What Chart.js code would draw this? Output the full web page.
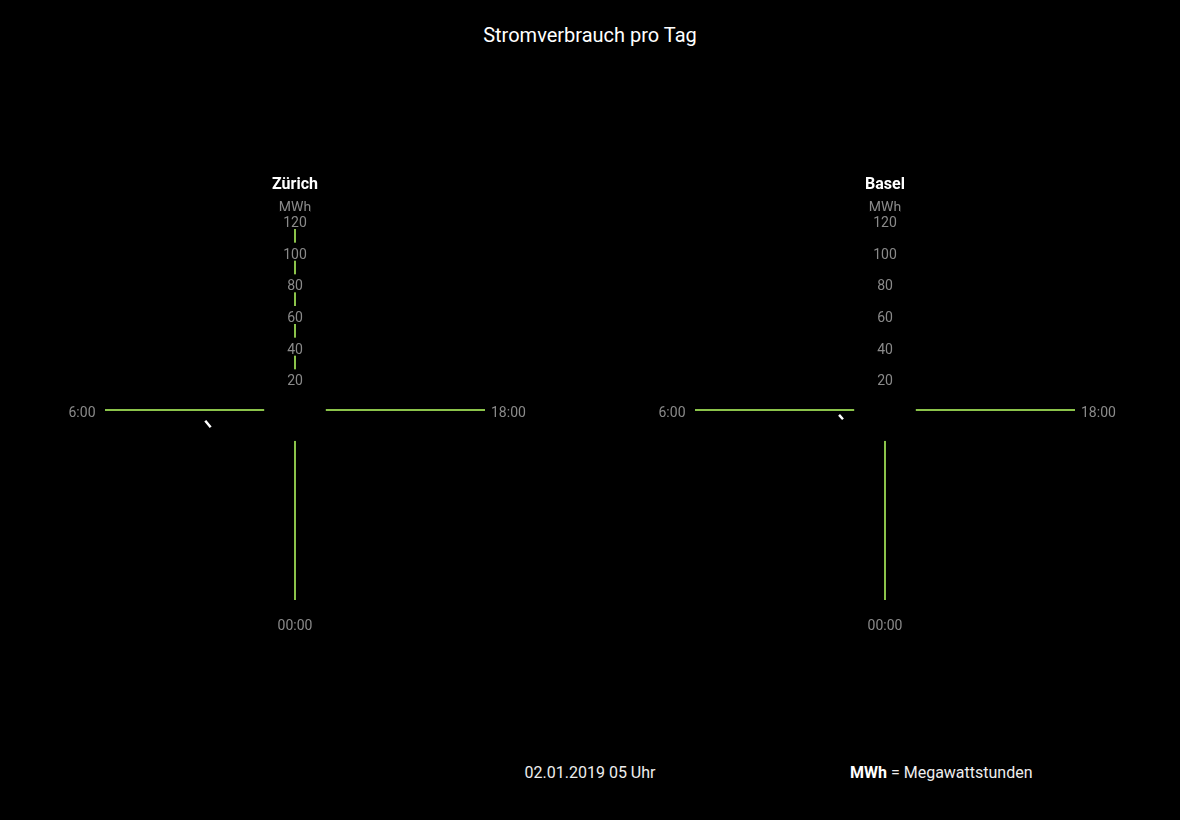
<!DOCTYPE html>
<html lang="de">
<head>
<meta charset="utf-8">
<title>Stromverbrauch pro Tag</title>
<script src="https://cdn.jsdelivr.net/npm/chart.js@4.4.1/dist/chart.umd.min.js"></script>
<style>
  html, body { margin: 0; padding: 0; background: #000; width: 1180px; height: 820px; overflow: hidden; font-family: Roboto, sans-serif; }
  #title { position: absolute; left: 0; top: 22px; width: 1180px; text-align: center; color: #fff; font-size: 20px; line-height: 26px; }
  .box { position: absolute; top: 175px; width: 590px; height: 461px; }
  #foot1 { position: absolute; left: 390px; width: 400px; top: 763px; text-align: center; color: #eee; font-size: 16px; line-height: 20px; }
  #foot2 { position: absolute; left: 850px; top: 763px; color: #eee; font-size: 16px; line-height: 20px; white-space: nowrap; }
  #foot2 b { color: #fff; font-weight: 700; }
</style>
</head>
<body>
<div id="title">Stromverbrauch pro Tag</div>
<div class="box" style="left:0"><canvas id="c1" width="590" height="461"></canvas></div>
<div class="box" style="left:590px"><canvas id="c2" width="590" height="461"></canvas></div>
<div id="foot1">02.01.2019 05 Uhr</div>
<div id="foot2"><b>MWh</b> = Megawattstunden</div>
<script>
// ---- data ----
const hours = ["12:00","13:00","14:00","15:00","16:00","17:00","18:00","19:00","20:00","21:00","22:00","23:00",
               "00:00","1:00","2:00","3:00","4:00","5:00","6:00","7:00","8:00","9:00","10:00","11:00"];
const shownHours = ["18:00","00:00","6:00"];
const unit = "MWh";
const tickValues = [20, 40, 60, 80, 100, 120];
const cities = ["Zürich", "Basel"];
// base ring (hidden centre) per hour
const baseZuerich = [19.5,19.5,19.5,19.5,19.5,19.5,19.5,19.5,19.5,19.5,19.5,19.5,19.5,19.5,19.5,19.5,19.5,19.5,19.5,19.5,19.5,19.5,19.5,19.5];
const baseBasel   = [19.5,19.5,19.5,19.5,19.5,19.5,19.5,19.5,19.5,19.5,19.5,19.5,19.5,19.5,19.5,19.5,19.5,19.5,19.5,19.5,19.5,19.5,19.5,19.5];
// consumption (only the current hour segment visible)
const verbrauchZuerich = [null,null,null,null,null,null,null,null,null,null,null,null,null,null,null,null,null,52.8,62.3,null,null,null,null,null];
const verbrauchBasel   = [null,null,null,null,null,null,null,null,null,null,null,null,null,null,null,null,null,26.5,31.9,null,null,null,null,null];

Chart.defaults.font.family = "Roboto";

const GREEN = "#8bc34a";
const GREY = "#8a8a8a";

function makeChart(id, city, base, values, dash, showTopLine) {
  return new Chart(document.getElementById(id), {
    type: "radar",
    data: {
      labels: hours,
      datasets: [
        {
          label: "Verbrauch",
          data: values,
          borderColor: "#ffffff",
          borderWidth: 2.5,
          borderDash: dash,
          pointRadius: 0,
          fill: false,
          spanGaps: false,
          order: 1
        },
        {
          label: "Basis",
          data: base,
          borderWidth: 0,
          borderColor: "rgba(0,0,0,0)",
          backgroundColor: "#000000",
          pointRadius: 0,
          fill: "origin",
          order: 2
        }
      ]
    },
    options: {
      responsive: false,
      animation: false,
      events: [],
      layout: { padding: 0 },
      plugins: {
        legend: { display: false },
        tooltip: { enabled: false },
        title: {
          display: true,
          text: city,
          color: "#ffffff",
          font: { size: 16, weight: "bold" },
          padding: { top: 0, bottom: 4.8 }
        }
      },
      scales: {
        r: {
          min: 0,
          max: tickValues[tickValues.length - 1],
          grid: { display: false },
          angleLines: {
            display: true,
            lineWidth: 2,
            color: (ctx) => {
              const lab = hours[ctx.index];
              if (shownHours.includes(lab)) return GREEN;
              if (ctx.index === 0 && showTopLine) return GREEN;
              return "rgba(0,0,0,0)";
            }
          },
          pointLabels: {
            display: true,
            color: GREY,
            font: { size: 14, lineHeight: "6px" },
            padding: (ctx) => {
              const lab = hours[ctx.index];
              if (lab === "00:00") return 14;
              if (lab === "6:00") return 0.5;
              if (ctx.index === 0) return 0;
              return -3;
            },
            callback: (label, index) => {
              if (index === 0) return unit;
              if (label === "00:00") return label;
              return shownHours.includes(label) ? ["", label] : "";
            }
          },
          ticks: {
            stepSize: tickValues[1] - tickValues[0],
            color: GREY,
            font: { size: 14, lineHeight: "3.5px" },
            showLabelBackdrop: true,
            backdropColor: "#000000",
            backdropPadding: 2,
            z: 1,
            callback: (value) => ["", String(value)]
          }
        }
      }
    }
  });
}

makeChart("c1", cities[0], baseZuerich, verbrauchZuerich, [0, 5.6, 8.5, 400], true);
makeChart("c2", cities[1], baseBasel, verbrauchBasel, [0, 2.2, 5.8, 400], false);
</script>
</body>
</html>
